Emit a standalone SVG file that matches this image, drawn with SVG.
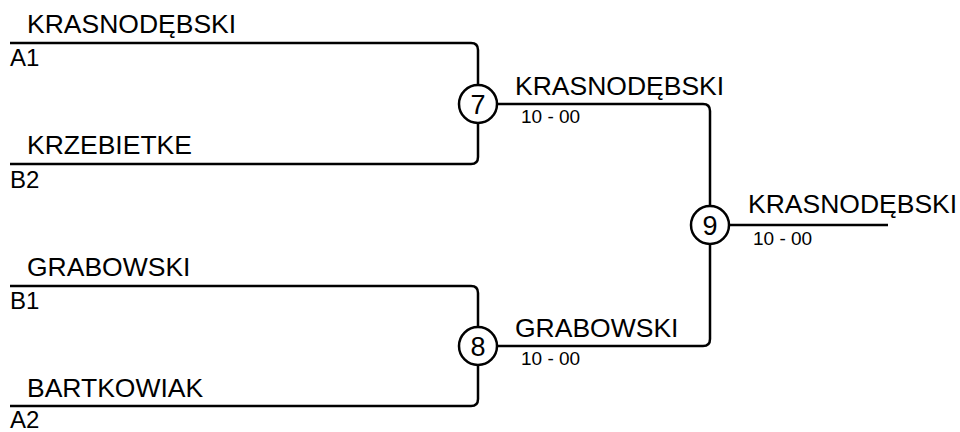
<svg xmlns="http://www.w3.org/2000/svg" width="960" height="432" viewBox="0 0 960 432">
<style>
.ln{fill:none;stroke:#000;stroke-width:2.5;stroke-linejoin:round}
.c{fill:#fff;stroke:#000;stroke-width:2.5}
text{font-family:"Liberation Sans",Arial,sans-serif;fill:#000}
.nm{font-size:26.5px}
.sd{font-size:24px}
.sc{font-size:19px}
.num{font-size:27px;text-anchor:middle}
</style>
<rect width="960" height="432" fill="#fff"/>
<g id="connectors">
<path class="ln" d="M10,43 H471 Q478,43 478,50 V157 Q478,164 471,164 H10"/>
<path class="ln" d="M10,286 H471 Q478,286 478,293 V399 Q478,406 471,406 H10"/>
<path class="ln" d="M478,104 H703 Q710,104 710,111 V225"/>
<path class="ln" d="M478,346 H703 Q710,346 710,339 V225"/>
<path class="ln" d="M710,225 H888"/>
</g>
<g id="entry-a1"><text class="nm" x="27" y="33">KRASNODĘBSKI</text><text class="sd" x="10" y="66">A1</text></g>
<g id="entry-b2"><text class="nm" x="27" y="154">KRZEBIETKE</text><text class="sd" x="10" y="188">B2</text></g>
<g id="entry-b1"><text class="nm" x="27" y="276">GRABOWSKI</text><text class="sd" x="10" y="309">B1</text></g>
<g id="entry-a2"><text class="nm" x="27" y="397">BARTKOWIAK</text><text class="sd" x="10" y="428">A2</text></g>
<g id="match-7"><circle class="c" cx="478" cy="104" r="19"/><text class="num" x="478" y="113.5">7</text></g>
<g id="match-8"><circle class="c" cx="478" cy="346" r="19"/><text class="num" x="478" y="355.5">8</text></g>
<g id="match-9"><circle class="c" cx="710" cy="225" r="19"/><text class="num" x="710" y="234.5">9</text></g>
<g id="winner-7"><text class="nm" x="515" y="95">KRASNODĘBSKI</text><text class="sc" x="521" y="123">10 - 00</text></g>
<g id="winner-8"><text class="nm" x="515" y="337">GRABOWSKI</text><text class="sc" x="521" y="365">10 - 00</text></g>
<g id="winner-9"><text class="nm" x="748" y="213">KRASNODĘBSKI</text><text class="sc" x="753" y="245">10 - 00</text></g>
</svg>
